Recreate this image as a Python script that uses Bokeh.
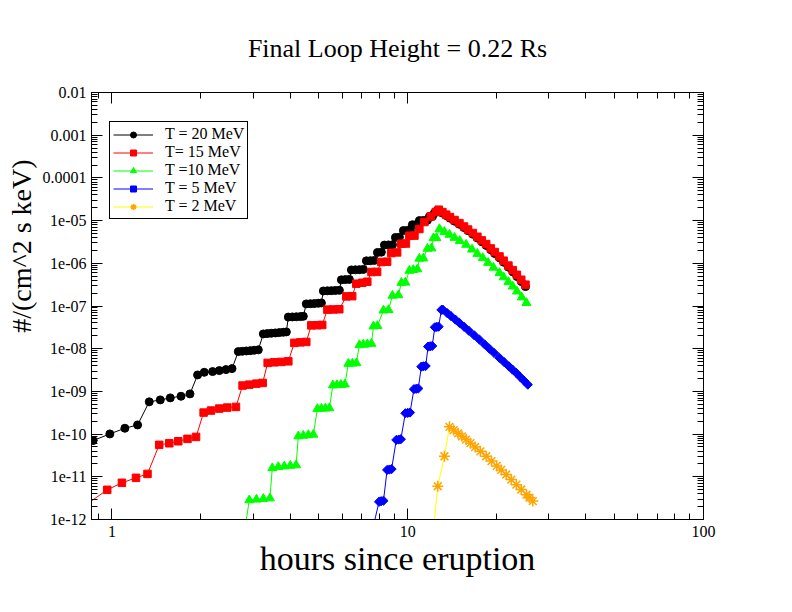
import numpy as np
from bokeh.plotting import figure
from bokeh.models import FixedTicker, LogAxis, Legend, LegendItem, Title
from bokeh.embed import file_html
from bokeh.resources import INLINE

# ---------------- data ----------------
black_x = [0.864, 0.984, 1.106, 1.221,
           1.337, 1.457, 1.575, 1.712, 1.836,
           1.948, 2.052, 2.190, 2.307, 2.430, 2.547,
           2.675, 2.759, 2.847, 2.937, 3.029, 3.125,
           3.250, 3.353, 3.458, 3.568, 3.681, 3.797, 3.888,
           3.948, 4.073, 4.204, 4.338, 4.437,
           4.540, 4.688, 4.835, 4.990, 5.107,
           5.186, 5.350, 5.520, 5.693, 5.875,
           5.967, 6.155, 6.350,
           6.451, 6.655, 6.865, 7.082,
           7.250, 7.478, 7.716,
           7.900, 8.147,
           8.342, 8.606, 8.880,
           9.087, 9.374,
           9.671, 9.978, 10.21,
           10.37, 10.70,
           10.95, 11.30, 11.66,
           11.84, 12.13,
           12.31,
           12.60,
           13.1, 13.49, 13.9, 14.4, 14.96, 15.5, 16.0, 16.6, 17.2, 17.8,
           18.42, 19.1, 19.7, 20.43, 21.1, 21.9, 22.66, 23.4, 24.2, 25.01]
black_y = [7.06e-11, 1.01e-10, 1.37e-10, 1.64e-10,
           5.69e-10, 6.33e-10, 7.05e-10, 7.69e-10, 8.75e-10,
           2.43e-9, 2.80e-9, 2.91e-9, 3.07e-9, 3.24e-9, 3.42e-9,
           8.55e-9, 8.70e-9, 8.85e-9, 9.00e-9, 9.20e-9, 9.40e-9,
           2.22e-8, 2.26e-8, 2.30e-8, 2.34e-8, 2.38e-8, 2.43e-8, 2.47e-8,
           5.50e-8, 5.55e-8, 5.60e-8, 5.65e-8, 5.73e-8,
           1.12e-7, 1.13e-7, 1.14e-7, 1.16e-7, 1.18e-7,
           2.25e-7, 2.27e-7, 2.29e-7, 2.31e-7, 2.33e-7,
           4.10e-7, 4.15e-7, 4.20e-7,
           7.00e-7, 7.05e-7, 7.10e-7, 7.20e-7,
           1.14e-6, 1.15e-6, 1.17e-6,
           1.79e-6, 1.82e-6,
           2.67e-6, 2.70e-6, 2.72e-6,
           4.03e-6, 4.08e-6,
           5.85e-6, 5.90e-6, 5.95e-6,
           8.00e-6, 8.05e-6,
           1.00e-5, 1.01e-5, 1.02e-5,
           1.24e-5, 1.26e-5,
           1.51e-5,
           1.73e-5,
           1.50e-5, 1.31e-5, 1.14e-5, 9.7e-6, 8.2e-6, 6.85e-6, 5.8e-6, 4.8e-6, 3.9e-6, 3.2e-6,
           2.62e-6, 2.07e-6, 1.69e-6, 1.34e-6, 1.06e-6, 8.1e-7, 6.3e-7, 4.9e-7, 3.75e-7, 2.85e-7]

red_x = [0.80, 0.964, 1.081, 1.206, 1.319,
         1.445, 1.563, 1.676, 1.801, 1.925,
         2.042, 2.162, 2.307, 2.454, 2.626,
         2.765, 2.913, 3.078, 3.233,
         3.362, 3.540, 3.739, 3.948,
         4.138, 4.336, 4.540,
         4.720, 4.950, 5.140,
         5.350, 5.600, 5.870,
         6.200, 6.490,
         6.700, 7.020, 7.300,
         7.540, 7.880,
         8.140, 8.520,
         8.800, 9.210,
         9.510, 9.860,
         10.13, 10.54,
         10.95, 11.39, 11.97, 12.45,
         12.73, 13.1, 13.49, 13.9, 14.4, 14.96, 15.5, 16.0, 16.6, 17.2, 17.8,
         18.42, 19.1, 19.7, 20.43, 21.1, 21.9, 22.66, 23.4, 24.2, 25.01]
red_y = [2.0e-12, 4.95e-12, 7.23e-12, 9.46e-12, 1.17e-11,
         5.60e-11, 6.10e-11, 6.80e-11, 7.74e-11, 8.60e-11,
         3.19e-10, 3.56e-10, 3.96e-10, 4.18e-10, 4.34e-10,
         1.37e-9, 1.44e-9, 1.52e-9, 1.58e-9,
         4.65e-9, 4.80e-9, 4.91e-9, 5.07e-9,
         1.37e-8, 1.41e-8, 1.44e-8,
         3.52e-8, 3.55e-8, 3.60e-8,
         8.22e-8, 8.30e-8, 8.40e-8,
         1.68e-7, 1.70e-7,
         3.33e-7, 3.50e-7, 3.70e-7,
         6.26e-7, 6.30e-7,
         1.07e-6, 1.09e-6,
         1.74e-6, 1.80e-6,
         2.88e-6, 2.90e-6,
         4.43e-6, 4.45e-6,
         6.35e-6, 9.27e-6, 1.25e-5, 1.59e-5,
         1.80e-5, 1.58e-5, 1.38e-5, 1.21e-5, 1.03e-5, 8.71e-6, 7.28e-6, 6.18e-6, 5.13e-6, 4.18e-6, 3.44e-6,
         2.82e-6, 2.23e-6, 1.83e-6, 1.45e-6, 1.15e-6, 8.83e-7, 6.92e-7, 5.37e-7, 4.12e-7, 3.16e-7]

green_x = [2.80,
           2.913, 3.080, 3.250, 3.420,
           3.485, 3.652, 3.826, 4.010, 4.195,
           4.268, 4.437, 4.614, 4.797,
           4.950, 5.107, 5.268, 5.434,
           5.585, 5.762, 5.943, 6.132,
           6.300, 6.500, 6.707,
           6.865, 7.080, 7.308, 7.540,
           7.660, 7.900,
           8.280, 8.610,
           8.880, 9.300,
           9.520, 9.820,
           10.13, 10.45, 10.78,
           10.95, 11.30,
           11.66, 12.03,
           12.22, 12.50,
           12.8, 13.3, 13.84, 14.4, 15.0, 15.76, 16.5, 17.2, 17.94,
           18.7, 19.5, 20.43, 21.1, 21.9, 22.66, 23.4, 24.3, 25.2]
green_y = [4.5e-13,
           2.84e-12, 2.94e-12, 3.05e-12, 3.15e-12,
           1.60e-11, 1.70e-11, 1.76e-11, 1.82e-11, 1.87e-11,
           8.9e-11, 9.2e-11, 9.5e-11, 9.75e-11,
           3.90e-10, 3.95e-10, 4.00e-10, 4.07e-10,
           1.39e-9, 1.41e-9, 1.43e-9, 1.46e-9,
           4.45e-9, 4.50e-9, 4.60e-9,
           1.22e-8, 1.25e-8, 1.28e-8, 1.31e-8,
           3.35e-8, 3.42e-8,
           7.9e-8, 8.1e-8,
           1.75e-7, 1.80e-7,
           3.50e-7, 3.55e-7,
           6.72e-7, 7.00e-7, 7.28e-7,
           1.29e-6, 1.31e-6,
           2.21e-6, 2.25e-6,
           3.89e-6, 3.93e-6,
           6.35e-6, 5.47e-6, 4.68e-6, 3.97e-6, 3.36e-6, 2.73e-6, 2.11e-6, 1.67e-6, 1.33e-6,
           1.03e-6, 7.94e-7, 5.93e-7, 4.73e-7, 3.65e-7, 2.88e-7, 2.20e-7, 1.60e-7, 1.18e-7]

blue_x = [7.54, 8.00, 8.13, 8.28, 8.52, 8.67, 8.82, 9.15, 9.32, 9.48,
          9.82, 10.0, 10.18, 10.50, 10.68, 10.86, 11.12, 11.30, 11.50,
          11.72, 11.91, 12.10, 12.35, 12.54, 12.72, 13.00,
          13.14, 13.6, 14.0, 14.5, 14.96, 15.5, 16.1, 16.8, 17.48, 18.2,
          18.9, 19.6, 20.43, 21.2, 22.0, 22.6, 23.27, 24.0, 24.7, 25.47]
blue_y = [4.5e-13, 2.60e-12, 2.68e-12, 2.75e-12, 1.45e-11, 1.48e-11, 1.52e-11, 7.30e-11, 7.45e-11, 7.60e-11,
          3.08e-10, 3.14e-10, 3.20e-10, 1.13e-9, 1.15e-9, 1.17e-9, 3.80e-9, 3.87e-9, 3.94e-9,
          1.12e-8, 1.14e-8, 1.16e-8, 3.18e-8, 3.23e-8, 3.28e-8, 8.10e-8,
          8.22e-8, 6.81e-8, 5.81e-8, 4.79e-8, 4.01e-8, 3.27e-8, 2.62e-8, 2.05e-8, 1.63e-8, 1.26e-8,
          9.95e-9, 7.93e-9, 6.08e-9, 4.83e-9, 3.84e-9, 3.25e-9, 2.71e-9, 2.18e-9, 1.79e-9, 1.44e-9]

orange_x = [12.17, 12.64, 13.31,
            13.84, 14.3, 14.8, 15.25, 15.76, 16.3, 16.9, 17.6, 18.42, 19.2,
            20.0, 20.7, 21.52, 22.4, 23.3, 24.2, 25.2, 25.8, 26.48]
orange_y = [4.5e-13, 6.01e-12, 3.03e-11,
            1.48e-10, 1.24e-10, 1.04e-10, 8.85e-11, 7.45e-11, 6.14e-11, 4.98e-11, 3.94e-11, 3.03e-11, 2.33e-11,
            1.80e-11, 1.45e-11, 1.13e-11, 8.59e-12, 6.53e-12, 5.04e-12, 3.82e-12, 3.24e-12, 2.70e-12]

series_labels = ["T = 20 MeV", "T= 15 MeV", "T =10 MeV", "T = 5 MeV", "T = 2 MeV"]

x_major = [1, 10, 100]
x_minor = [0.9, 2, 3, 4, 5, 6, 7, 8, 9, 20, 30, 40, 50, 60, 70, 80, 90]
x_labels = {1: "1", 10: "10", 100: "100"}
y_major = [1e-12, 1e-11, 1e-10, 1e-09, 1e-08, 1e-07, 1e-06, 1e-05, 1e-04, 1e-03, 1e-02]
y_labels_txt = ["1e-12", "1e-11", "1e-10", "1e-09", "1e-08", "1e-07", "1e-06", "1e-05",
                "0.0001", "0.001", "0.01"]
y_minor = [m * t for t in y_major[:-1] for m in range(2, 10)]

FONT = "Liberation Serif"

# ---------------- figure ----------------
p = figure(x_axis_type="log", y_axis_type="log",
           x_range=(0.853, 100), y_range=(1e-12, 1e-2),
           frame_width=612, frame_height=427,
           min_border_left=91, min_border_right=73,
           min_border_top=92, min_border_bottom=77,
           output_backend="svg", toolbar_location=None,
           background_fill_color="white", border_fill_color="white")
p.grid.visible = False
p.outline_line_color = "black"
p.outline_line_width = 1

xt = FixedTicker(ticks=x_major, minor_ticks=x_minor)
yt = FixedTicker(ticks=y_major, minor_ticks=y_minor)


def style(ax):
    ax.axis_line_color = "black"
    ax.axis_line_width = 1
    ax.major_tick_in = 11
    ax.major_tick_out = 0
    ax.minor_tick_in = 6
    ax.minor_tick_out = 0
    ax.major_tick_line_color = "black"
    ax.minor_tick_line_color = "black"
    ax.major_label_text_font = FONT
    ax.major_label_text_font_size = "16px"
    ax.major_label_text_color = "black"


xa = p.xaxis[0]
xa.ticker = xt
style(xa)
xa.major_label_overrides = x_labels
xa.major_label_standoff = 6
xa.axis_label = "hours since eruption"
xa.axis_label_text_font = FONT
xa.axis_label_text_font_size = "34px"
xa.axis_label_text_font_style = "normal"
xa.axis_label_text_color = "black"
xa.axis_label_standoff = 0

ya = p.yaxis[0]
ya.ticker = yt
style(ya)
ya.major_label_overrides = {v: t for v, t in zip(y_major, y_labels_txt)}
ya.major_label_standoff = 5

top_ax = LogAxis(ticker=xt)
style(top_ax)
top_ax.major_label_text_alpha = 0
top_ax.major_label_text_font_size = "1px"
top_ax.major_label_standoff = 0
p.add_layout(top_ax, "above")

right_ax = LogAxis(ticker=yt)
style(right_ax)
right_ax.major_label_text_alpha = 0
right_ax.major_label_text_font_size = "1px"
right_ax.major_label_standoff = 0
p.add_layout(right_ax, "right")

p.title.text = "Final Loop Height = 0.22 Rs"
p.title.align = "center"
p.title.text_font = FONT
p.title.text_font_size = "26px"
p.title.text_font_style = "normal"
p.title.text_color = "black"
p.title.standoff = 60

ytitle = Title(text="#/(cm^2 s keV)", align="right", offset=67,
               text_font=FONT, text_font_size="28px", text_font_style="normal",
               text_color="black", standoff=6)
p.add_layout(ytitle, "left")

# ---------------- series ----------------
items = []

lb = p.line(black_x, black_y, line_color="black", line_width=1)
sb = p.scatter(black_x, black_y, marker="circle", size=8, fill_color="black", line_color="black")
items.append(LegendItem(label=series_labels[0], renderers=[lb, sb]))

lr = p.line(red_x, red_y, line_color="#ff0000", line_width=1)
sr = p.scatter(red_x, red_y, marker="square", size=7.5, fill_color="#ff0000", line_color="#ff0000")
items.append(LegendItem(label=series_labels[1], renderers=[lr, sr]))

lg = p.line(green_x, green_y, line_color="#00ff00", line_width=1)
sg = p.scatter(green_x, green_y, marker="triangle", size=9, fill_color="#00ff00", line_color="#00ff00")
items.append(LegendItem(label=series_labels[2], renderers=[lg, sg]))

lbl = p.line(blue_x, blue_y, line_color="#0000ff", line_width=1)
sbl = p.scatter(blue_x, blue_y, marker="square", angle=np.pi / 4, size=6.5,
                fill_color="#0000ff", line_color="#0000ff")
items.append(LegendItem(label=series_labels[3], renderers=[lbl, sbl]))

lo = p.line(orange_x, orange_y, line_color="#ffff00", line_width=1)
so = p.scatter(orange_x, orange_y, marker="asterisk", size=11, line_color="#ffa500", line_width=1.5)
items.append(LegendItem(label=series_labels[4], renderers=[lo, so]))

legend = Legend(items=items, location=(18, 300),
                border_line_color="black", border_line_width=1, border_line_alpha=1,
                background_fill_color="white", background_fill_alpha=1,
                label_text_font=FONT, label_text_font_size="16px", label_text_color="black",
                glyph_width=40, glyph_height=15, label_height=15,
                spacing=0, padding=3, label_standoff=12, margin=0)
p.add_layout(legend)

open("out.html", "w").write(file_html(p, INLINE))
